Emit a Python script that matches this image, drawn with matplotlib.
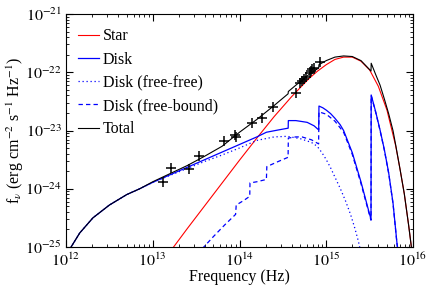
import numpy as np
import matplotlib
matplotlib.use("Agg")
import matplotlib.pyplot as plt
from matplotlib.ticker import FixedLocator, LogLocator, NullFormatter

plt.rcParams['font.family'] = ['Liberation Serif', 'DejaVu Serif']
plt.rcParams['mathtext.fontset'] = 'stix'
plt.rcParams['font.size'] = 11.5

# ---- data (log10 frequency [Hz], log10 flux [erg cm^-2 s^-1 Hz^-1]) ----
star_lognu = [13.2, 13.4, 13.6, 13.8, 14.0, 14.2, 14.4, 14.6, 14.8, 14.9, 15.0,
              15.1, 15.2, 15.3, 15.4, 15.5, 15.6, 15.7, 15.8, 15.85, 15.9, 15.95, 16.0]
star_logf = [-25.08, -24.68, -24.29, -23.90, -23.51, -23.13, -22.76, -22.42, -22.11,
             -21.98, -21.87, -21.78, -21.74, -21.74, -21.81, -21.96, -22.24, -22.65,
             -23.26, -23.66, -24.09, -24.63, -25.22]

disk_lognu = [12.05, 12.158, 12.31, 12.5, 12.7, 12.85, 13.0, 13.2, 13.4, 13.6, 13.8,
              14.0, 14.2, 14.31, 14.45, 14.561, 14.563, 14.65, 14.78, 14.86, 14.913,
              14.916, 14.96, 15.0, 15.05, 15.1, 15.16, 15.2, 15.3, 15.4, 15.5, 15.516,
              15.518, 15.57, 15.62, 15.67, 15.72, 15.77, 15.815, 15.83]
disk_logf = [-25.02, -24.76, -24.50, -24.28, -24.10, -24.00, -23.89, -23.76, -23.63,
             -23.50, -23.37, -23.24, -23.11, -23.03, -22.99, -22.96, -22.83, -22.83,
             -22.86, -22.92, -22.99, -22.58, -22.61, -22.65, -22.71, -22.79, -22.90,
             -23.00, -23.38, -23.88, -24.44, -24.52, -22.39, -22.68, -22.99, -23.33,
             -23.73, -24.25, -24.93, -25.10]

ff_lognu = [12.05, 12.158, 12.31, 12.5, 12.7, 12.85, 13.0, 13.2, 13.4, 13.6, 13.8,
            14.0, 14.2, 14.4, 14.55, 14.7, 14.8, 14.85, 14.9, 14.95, 15.0, 15.05,
            15.1, 15.16, 15.22, 15.28, 15.33, 15.37, 15.39]
ff_logf = [-25.02, -24.76, -24.50, -24.28, -24.10, -24.00, -23.89, -23.77, -23.65,
           -23.53, -23.42, -23.30, -23.17, -23.11, -23.10, -23.14, -23.19, -23.22,
           -23.28, -23.38, -23.50, -23.64, -23.80, -23.99, -24.20, -24.44, -24.68,
           -24.90, -25.03]

fb_lognu = [13.57, 13.70, 13.83, 13.955, 13.962, 14.05, 14.118, 14.121, 14.2, 14.31,
            14.315, 14.45, 14.56, 14.563, 14.65, 14.72, 14.83, 14.912, 14.916, 15.0,
            15.1, 15.2, 15.3, 15.4, 15.5, 15.516, 15.518, 15.57, 15.62, 15.67, 15.72,
            15.77, 15.815, 15.83]
fb_logf = [-25.03, -24.82, -24.62, -24.44, -24.28, -24.20, -24.13, -23.90, -23.88,
           -23.84, -23.62, -23.53, -23.46, -23.13, -23.11, -23.11, -23.16, -23.23,
           -22.68, -22.72, -22.84, -23.03, -23.41, -23.91, -24.46, -24.54, -22.40,
           -22.69, -23.00, -23.34, -23.74, -24.26, -24.94, -25.10]

total_lognu = [12.05, 12.158, 12.31, 12.5, 12.7, 12.85, 13.0, 13.2, 13.4, 13.6, 13.8,
               14.0, 14.2, 14.4, 14.56, 14.563, 14.7, 14.8, 14.913, 14.916, 15.0, 15.1,
               15.2, 15.3, 15.4, 15.5, 15.516, 15.518, 15.57, 15.62, 15.67, 15.72,
               15.77, 15.8, 15.85, 15.9, 15.95, 16.0]
total_logf = [-25.02, -24.76, -24.50, -24.28, -24.10, -24.00, -23.88, -23.74, -23.60,
              -23.44, -23.27, -23.03, -22.81, -22.57, -22.37, -22.33, -22.16, -22.04,
              -21.926, -21.87, -21.80, -21.74, -21.72, -21.73, -21.80, -21.955, -21.98,
              -21.845, -22.04, -22.22, -22.46, -22.715, -23.005, -23.245, -23.66,
              -24.09, -24.63, -25.22]

obs_lognu = [13.12, 13.21, 13.417, 13.536, 13.82, 13.95, 13.96, 14.14, 14.26, 14.383,
             14.655, 14.70, 14.72, 14.745, 14.765, 14.81, 14.825, 14.84, 14.855, 14.93]
obs_logf = [-23.886, -23.646, -23.663, -23.43, -23.18, -23.08, -23.12, -22.873, -22.787,
            -22.60, -22.357, -22.19, -22.15, -22.12, -22.09, -22.01, -21.97, -21.95,
            -21.92, -21.83]

x_tick_exp = [12, 13, 14, 15, 16]
y_tick_exp = [-25, -24, -23, -22, -21]

labels = ["Star", "Disk", "Disk (free-free)", "Disk (free-bound)", "Total"]


def p(v):
    return 10.0 ** np.asarray(v, dtype=float)


fig = plt.figure(figsize=(4.36, 2.91), dpi=100)
ax = fig.add_axes([66 / 436, 1 - 247 / 291, (413 - 66) / 436, (247 - 14) / 291])

ax.plot(p(star_lognu), p(star_logf), color='#ff0000', lw=0.8, label=labels[0])
ax.plot(p(disk_lognu), p(disk_logf), color='#0000ff', lw=0.9, label=labels[1])
ax.plot(p(ff_lognu), p(ff_logf), color='#0000ff', lw=0.9, ls=(0, (1, 2.2)), label=labels[2])
ax.plot(p(fb_lognu), p(fb_logf), color='#0000ff', lw=0.9, ls=(0, (3.5, 2.5)), label=labels[3])
ax.plot(p(total_lognu), p(total_logf), color='black', lw=0.8, label=labels[4])
ax.plot(p(obs_lognu), p(obs_logf), ls='none', marker='+', ms=6.5, mew=1.1, color='black')

ax.set_xscale('log')
ax.set_yscale('log')
ax.set_xlim(p(x_tick_exp[0]), p(x_tick_exp[-1]))
ax.set_ylim(p(y_tick_exp[0]), p(y_tick_exp[-1]))

ax.xaxis.set_major_locator(FixedLocator(p(x_tick_exp)))
ax.yaxis.set_major_locator(FixedLocator(p(y_tick_exp)))
ax.set_xticklabels([r"$10^{%d}$" % e for e in x_tick_exp])
ax.set_yticklabels([r"$10^{%d}$" % e for e in y_tick_exp])
ax.xaxis.set_minor_locator(LogLocator(base=10, subs=np.arange(2, 10), numticks=20))
ax.yaxis.set_minor_locator(LogLocator(base=10, subs=np.arange(2, 10), numticks=20))
ax.xaxis.set_minor_formatter(NullFormatter())
ax.yaxis.set_minor_formatter(NullFormatter())

ax.tick_params(which='both', direction='in', top=True, right=True, labelsize=11.5)
ax.tick_params(which='major', length=5, width=0.8)
ax.tick_params(which='minor', length=2.5, width=0.6)
ax.tick_params(axis='x', pad=4)
ax.tick_params(axis='y', pad=3)
for s in ax.spines.values():
    s.set_linewidth(0.8)

ax.set_xlabel("Frequency (Hz)", fontsize=11.5)
ax.xaxis.set_label_coords(0.5, -0.095)
ax.set_ylabel(r"f$_\nu$ (erg cm$^{-2}$ s$^{-1}$ Hz$^{-1}$)", fontsize=11.5)
ax.yaxis.set_label_coords(-0.116, 0.5)

leg = ax.legend(loc='upper left', bbox_to_anchor=(-0.006, 1.0), frameon=False,
                fontsize=11.5, handlelength=1.3, handletextpad=0.25,
                labelspacing=0.45, borderaxespad=0.5)

fig.savefig("out.png", dpi=100)
